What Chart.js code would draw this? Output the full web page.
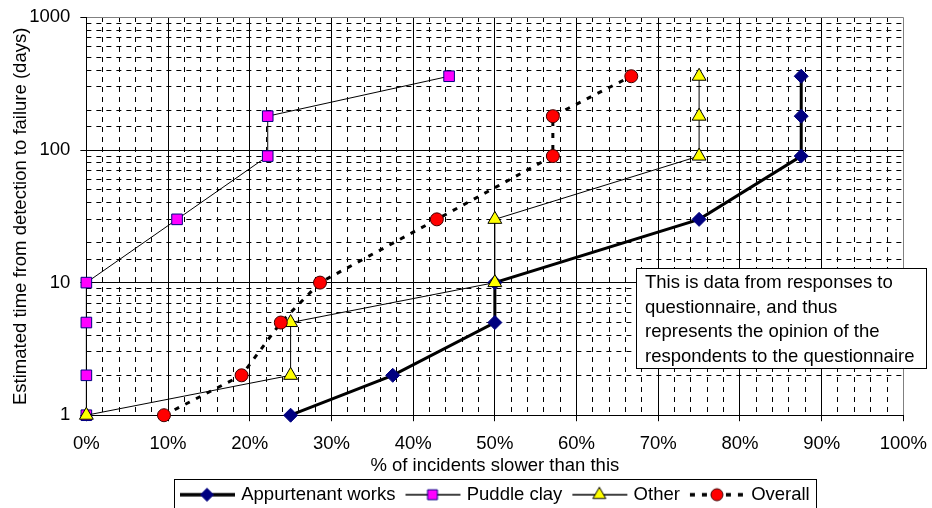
<!DOCTYPE html>
<html>
<head>
<meta charset="utf-8">
<script src="https://cdn.jsdelivr.net/npm/chart.js@4.4.1/dist/chart.umd.min.js"></script>
<style>
  html, body { margin: 0; padding: 0; background: #fff; overflow: hidden; }
  #wrap { position: relative; width: 932px; height: 514px; }
</style>
</head>
<body>
<div id="wrap"><canvas id="failChart"></canvas></div>
<script>
// values (x = % of incidents, y = days)
const seriesNames = ["Appurtenant works", "Puddle clay", "Other", "Overall"];
const appurtenantX = [25, 37.5, 50, 50, 75, 87.5, 87.5, 87.5];
const appurtenantY = [1, 2, 5, 10, 30, 90, 180, 360];
const puddleX = [0, 0, 0, 0, 11.1, 22.2, 22.2, 44.4];
const puddleY = [1, 2, 5, 10, 30, 90, 180, 360];
const otherX = [0, 25, 25, 50, 50, 75, 75, 75];
const otherY = [1, 2, 5, 10, 30, 90, 180, 360];
const overallX = [9.5, 19.0, 23.8, 28.6, 42.9, 57.1, 57.1, 66.7];
const overallY = [1, 2, 5, 10, 30, 90, 180, 360];
const xTicks = [0, 10, 20, 30, 40, 50, 60, 70, 80, 90, 100];
const yTicks = [1, 10, 100, 1000];
const noteLines = [
  "This is data from responses to",
  "questionnaire, and thus",
  "represents the opinion of the",
  "respondents to the questionnaire",
];

const FONT = 'Arial, "Liberation Sans", sans-serif';
const FS = 18.5;
Chart.defaults.font.family = FONT;
Chart.defaults.font.size = FS;
Chart.defaults.color = "#000";

const pts = (xs, ys) => xs.map((x, i) => ({ x: x, y: ys[i] }));

// marker for the legend samples (same look as the chart points)
function marker(ctx, style, x, y, r, fill, stroke) {
  ctx.beginPath();
  if (style === "rectRot") {
    ctx.moveTo(x, y - r); ctx.lineTo(x + r, y); ctx.lineTo(x, y + r); ctx.lineTo(x - r, y);
  } else if (style === "rect") {
    const s = r * Math.SQRT1_2;
    ctx.rect(x - s, y - s, 2 * s, 2 * s);
  } else if (style === "triangle") {
    ctx.moveTo(x, y - r);
    ctx.lineTo(x + r * 0.866, y + r * 0.5);
    ctx.lineTo(x - r * 0.866, y + r * 0.5);
  } else {
    ctx.arc(x, y, r, 0, Math.PI * 2);
  }
  ctx.closePath();
  ctx.fillStyle = fill; ctx.fill();
  ctx.lineWidth = 1; ctx.strokeStyle = stroke; ctx.stroke();
}

// legend sample: short line with the marker in its middle
function legendIcon(ds) {
  const c = document.createElement("canvas");
  c.width = 60; c.height = 20;
  const g = c.getContext("2d");
  g.strokeStyle = ds.borderColor;
  g.lineWidth = ds.borderWidth + 0.3;
  g.setLineDash(ds.borderDash || []);
  g.beginPath(); g.moveTo(4, 10); g.lineTo(59, 10); g.stroke();
  g.setLineDash([]);
  marker(g, ds.pointStyle, 31, 10, ds.pointRadius - 0.5, ds.pointBackgroundColor, ds.pointBorderColor);
  return c;
}

const boxPlugin = {
  id: "boxes",
  afterDraw(chart) {
    const ctx = chart.ctx;
    ctx.save();
    // text box
    ctx.fillStyle = "#fff";
    ctx.fillRect(636.5, 268.5, 290, 100);
    ctx.strokeStyle = "#000"; ctx.lineWidth = 1;
    ctx.strokeRect(636.5, 268.5, 290, 100);
    ctx.fillStyle = "#000";
    ctx.font = FS + "px " + FONT;
    ctx.textBaseline = "middle";
    noteLines.forEach((t, i) => ctx.fillText(t, 645, 283 + i * 24.7));
    // frame round legend
    const hb = chart.legend.legendHitBoxes;
    if (hb && hb.length) {
      const l = Math.min(...hb.map(b => b.left)) - 6;
      const r = Math.max(...hb.map(b => b.left + b.width)) + 6;
      const t = Math.min(...hb.map(b => b.top)) - 7;
      ctx.strokeRect(Math.round(l) + 0.5, Math.round(t) + 0.5, Math.round(r - l), 40);
    }
    ctx.restore();
  }
};

const datasets = [
  {
    label: seriesNames[0], data: pts(appurtenantX, appurtenantY),
    borderColor: "#000", borderWidth: 3,
    pointStyle: "rectRot", pointRadius: 7, pointBackgroundColor: "#000080", pointBorderColor: "#000080",
    order: 4,
  },
  {
    label: seriesNames[1], data: pts(puddleX, puddleY),
    borderColor: "#000", borderWidth: 1,
    pointStyle: "rect", pointRadius: 7.5, pointBackgroundColor: "#ff00ff", pointBorderColor: "#000080",
    order: 3,
  },
  {
    label: seriesNames[2], data: pts(otherX, otherY),
    borderColor: "#000", borderWidth: 1,
    pointStyle: "triangle", pointRadius: 8, pointBackgroundColor: "#ffff00", pointBorderColor: "#000",
    order: 2,
  },
  {
    label: seriesNames[3], data: pts(overallX, overallY),
    borderColor: "#000", borderWidth: 3, borderDash: [5, 7],
    pointStyle: "circle", pointRadius: 6.5, pointBackgroundColor: "#ff0000", pointBorderColor: "#400000",
    order: 1,
  },
];
datasets.forEach(d => { d.showLine = true; d.clip = false; d.pointBorderWidth = 1; d.pointHoverRadius = d.pointRadius; });

new Chart(document.getElementById("failChart"), {
  type: "scatter",
  data: { datasets: datasets },
  options: {
    responsive: true,
    maintainAspectRatio: false,
    animation: false,
    layout: { padding: { top: 0, right: 0, left: 10, bottom: 0 } },
    scales: {
      x: {
        type: "linear", min: 0, max: 100, position: "bottom",
        afterBuildTicks: s => { s.ticks = xTicks.map(v => ({ value: v })); },
        ticks: { callback: v => v + "%", padding: 5, maxRotation: 0, font: { lineHeight: 1.95 } },
        grid: {
          color: c => (c.tick && c.tick.value === 100 ? "#808080" : "#000"),
          tickLength: 6, tickColor: "#000",
        },
        border: { color: "#000" },
        title: { display: true, text: "% of incidents slower than this", padding: { top: -12, bottom: -2 } },
      },
      xMinor: {
        type: "linear", min: 0, max: 100, position: "top",
        ticks: { display: false, stepSize: 2 },
        grid: {
          drawTicks: false,
          color: c => (c.tick && c.tick.value % 10 === 0 ? "rgba(0,0,0,0)" : "#000"),
        },
        border: { display: false, dash: [5, 5] },
      },
      y: {
        type: "logarithmic", min: 1, max: 1000, position: "left",
        afterBuildTicks: s => { s.ticks = yTicks.map(v => ({ value: v })); },
        ticks: { callback: v => String(v), padding: 10, font: { lineHeight: 0.8 } },
        grid: {
          color: c => (c.tick && c.tick.value === 1000 ? "#808080" : "#000"),
          tickLength: 6, tickColor: "#000",
        },
        border: { color: "#000" },
        title: { display: true, text: "Estimated time from detection to failure (days)", padding: { top: 0, bottom: -13 } },
      },
      yMinor: {
        type: "logarithmic", min: 1, max: 1000, position: "right",
        ticks: { display: false },
        grid: {
          drawTicks: false,
          color: c => (c.tick && yTicks.includes(c.tick.value) ? "rgba(0,0,0,0)" : "#000"),
        },
        border: { display: false, dash: [5, 5] },
      },
    },
    plugins: {
      tooltip: { enabled: false },
      legend: {
        position: "bottom",
        fullSize: false,
        labels: {
          usePointStyle: true,
          pointStyleWidth: 52,
          padding: 10,
          generateLabels: chart => chart.data.datasets.map((ds, i) => ({
            text: ds.label,
            pointStyle: legendIcon(ds),
            fillStyle: "rgba(0,0,0,0)",
            strokeStyle: "rgba(0,0,0,0)",
            lineWidth: 0,
            hidden: false,
            datasetIndex: i,
            fontColor: "#000",
          })),
        },
      },
    },
  },
  plugins: [boxPlugin],
});
</script>
</body>
</html>
